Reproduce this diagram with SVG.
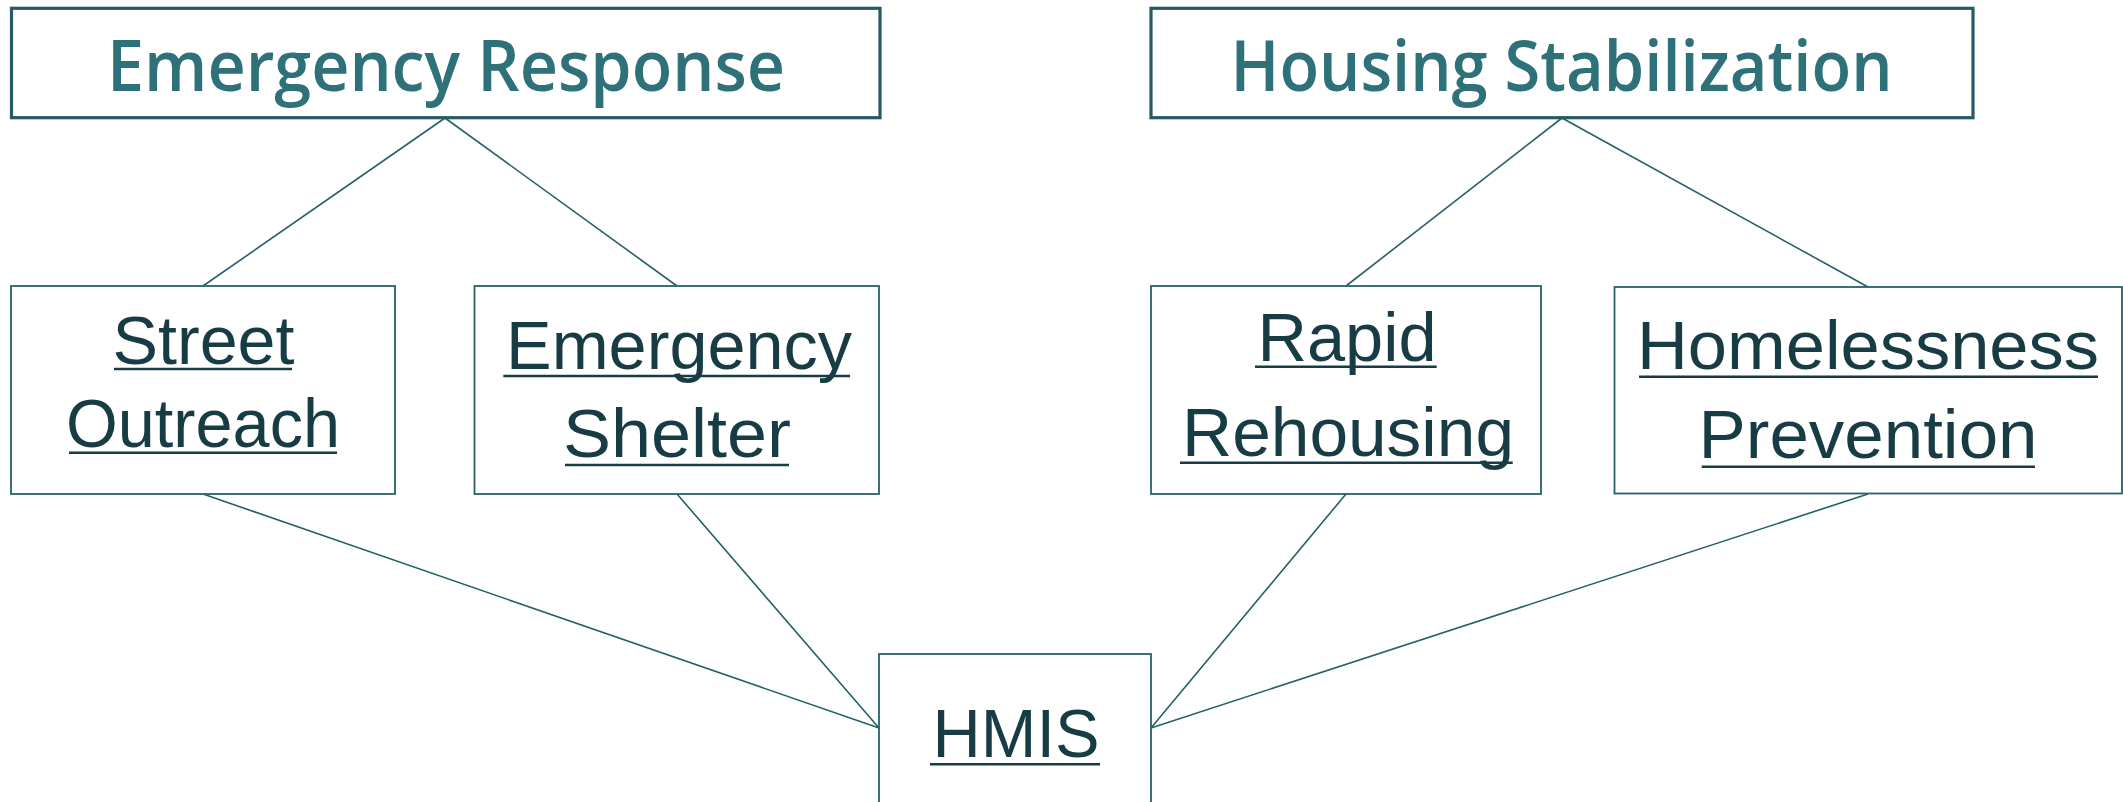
<svg xmlns="http://www.w3.org/2000/svg" width="2123" height="802" viewBox="0 0 2123 802">
<style>
.bg{fill:#ffffff}
.top{fill:#ffffff;stroke:#265B63;stroke-width:3.2}
.box{fill:#ffffff;stroke:#2A6069;stroke-width:1.8}
.title{font-family:"Open Sans","Liberation Sans",Arial,sans-serif;font-weight:600;font-size:71px;fill:#2E7179;text-anchor:middle}
.lbl{font-family:"Liberation Sans",Arial,sans-serif;font-size:68px;fill:#183C44;text-anchor:middle}
.ul{stroke:#183C44;stroke-width:2.6}
.conn line{stroke:#25606A;stroke-width:1.6}
</style>
<rect class="bg" x="0" y="0" width="2123" height="802"/>
<g id="connectors" class="conn">
<line x1="445" y1="118" x2="203" y2="286"/>
<line x1="445" y1="118" x2="677" y2="286"/>
<line x1="1562" y1="118" x2="1346" y2="286"/>
<line x1="1562" y1="118" x2="1868" y2="287"/>
<line x1="203" y1="494" x2="879" y2="728"/>
<line x1="677" y1="494" x2="879" y2="728"/>
<line x1="1346" y1="494" x2="1151" y2="728"/>
<line x1="1868" y1="494" x2="1151" y2="728"/>
</g>
<g id="emergency-response">
<rect class="top" x="11.5" y="8.3" width="868.5" height="109.4"/>
<text class="title" x="446" y="91" textLength="678" lengthAdjust="spacingAndGlyphs">Emergency Response</text>
</g>
<g id="housing-stabilization">
<rect class="top" x="1151" y="8.3" width="822" height="109.4"/>
<text class="title" x="1561.5" y="91" textLength="662" lengthAdjust="spacingAndGlyphs">Housing Stabilization</text>
</g>
<g id="street-outreach">
<rect class="box" x="11" y="286" width="384" height="208"/>
<text class="lbl" x="203.5" y="364.3" font-size="66" textLength="182" lengthAdjust="spacingAndGlyphs">Street</text>
<line class="ul" x1="114" y1="369" x2="292" y2="369"/>
<text class="lbl" x="203" y="447.3" font-size="66" textLength="274" lengthAdjust="spacingAndGlyphs">Outreach</text>
<line class="ul" x1="69" y1="452.7" x2="337" y2="452.7"/>
</g>
<g id="emergency-shelter">
<rect class="box" x="474.5" y="286" width="404.5" height="208"/>
<text class="lbl" x="679" y="369" textLength="346" lengthAdjust="spacingAndGlyphs">Emergency</text>
<line class="ul" x1="503.3" y1="376" x2="850" y2="376"/>
<text class="lbl" x="677" y="456.7" textLength="228" lengthAdjust="spacingAndGlyphs">Shelter</text>
<line class="ul" x1="565" y1="465" x2="789" y2="465"/>
</g>
<g id="rapid-rehousing">
<rect class="box" x="1151" y="286" width="390" height="208"/>
<text class="lbl" x="1347" y="360.7" textLength="179" lengthAdjust="spacingAndGlyphs">Rapid</text>
<line class="ul" x1="1255" y1="366.7" x2="1436.7" y2="366.7"/>
<text class="lbl" x="1348" y="455.7" textLength="332" lengthAdjust="spacingAndGlyphs">Rehousing</text>
<line class="ul" x1="1180" y1="462.7" x2="1512.7" y2="462.7"/>
</g>
<g id="homelessness-prevention">
<rect class="box" x="1614.5" y="287" width="507.5" height="206.5"/>
<text class="lbl" x="1868" y="369" textLength="462" lengthAdjust="spacingAndGlyphs">Homelessness</text>
<line class="ul" x1="1639" y1="376.7" x2="2098" y2="376.7"/>
<text class="lbl" x="1868" y="458.3" textLength="339" lengthAdjust="spacingAndGlyphs">Prevention</text>
<line class="ul" x1="1701.7" y1="466.7" x2="2035" y2="466.7"/>
</g>
<g id="hmis">
<rect class="box" x="879" y="654" width="272" height="160"/>
<text class="lbl" x="1016" y="757.3" font-size="69" textLength="167" lengthAdjust="spacingAndGlyphs">HMIS</text>
<line class="ul" x1="930" y1="764.3" x2="1100" y2="764.3"/>
</g>
</svg>
